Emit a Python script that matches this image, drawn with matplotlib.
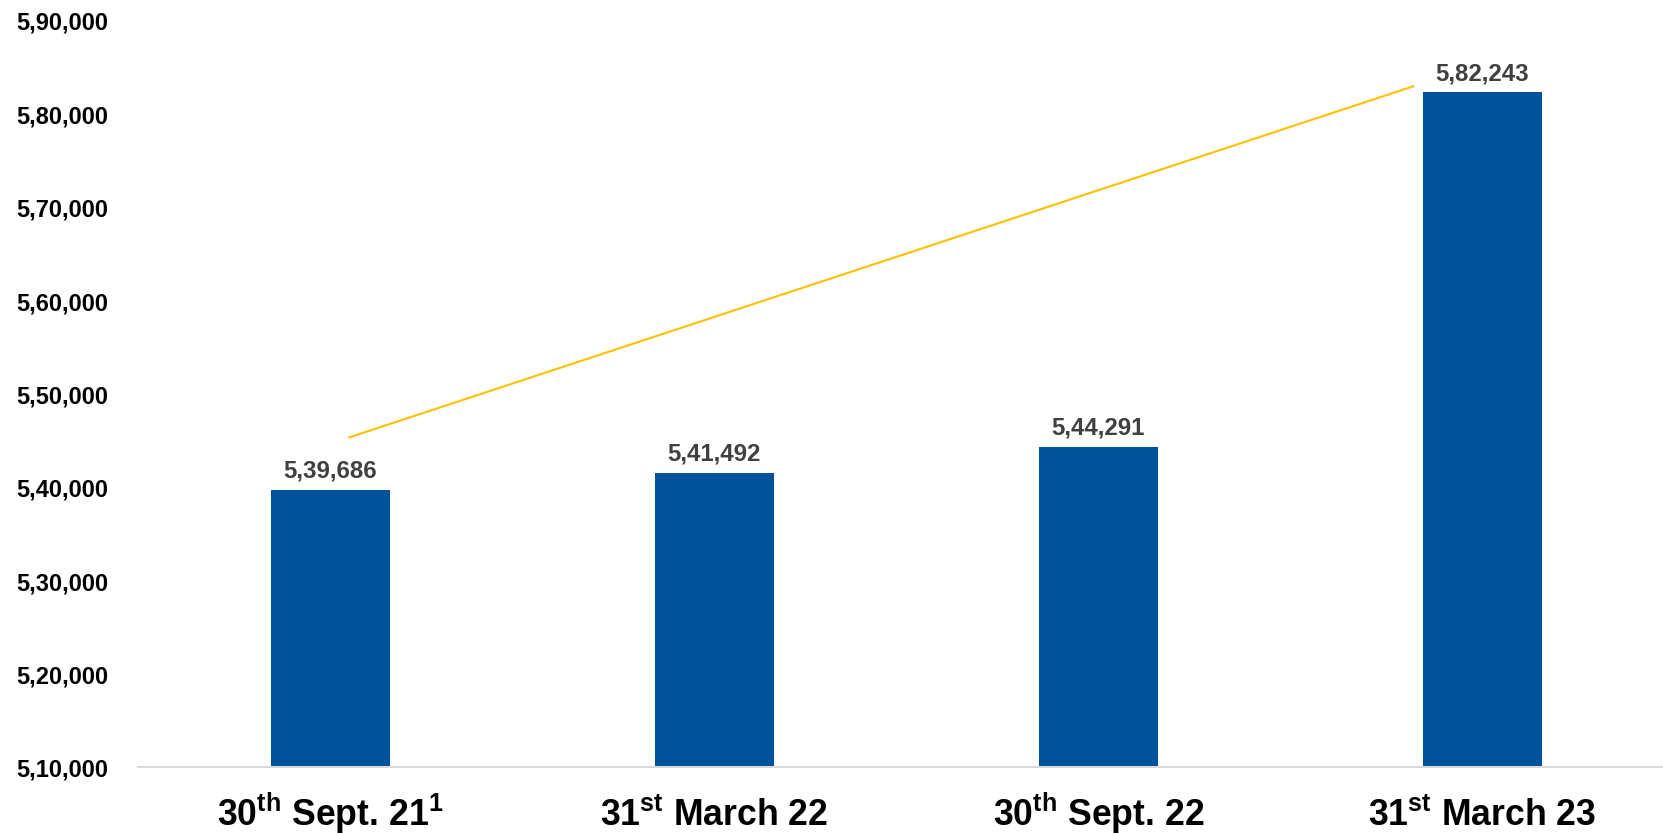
import matplotlib
matplotlib.use("Agg")
import matplotlib.pyplot as plt
from matplotlib.ticker import FixedLocator

plt.rcParams['font.family'] = ['Liberation Sans', 'DejaVu Sans']
plt.rcParams['mathtext.fontset'] = 'custom'
plt.rcParams['mathtext.rm'] = 'Liberation Sans:bold'
plt.rcParams['mathtext.bf'] = 'Liberation Sans:bold'
plt.rcParams['mathtext.it'] = 'Liberation Sans:bold'

categories = ["30$^{th}$ Sept. 21$^{1}$", "31$^{st}$ March 22", "30$^{th}$ Sept. 22", "31$^{st}$ March 23"]
values = [539686, 541492, 544291, 582243]
value_labels = ["5,39,686", "5,41,492", "5,44,291", "5,82,243"]
yticks = [510000, 520000, 530000, 540000, 550000, 560000, 570000, 580000, 590000]
ytick_labels = ["5,10,000", "5,20,000", "5,30,000", "5,40,000", "5,50,000",
                "5,60,000", "5,70,000", "5,80,000", "5,90,000"]
trend_x = [0.05, 2.82]
trend_y = [545300, 582900]

fig = plt.figure(figsize=(16.63, 8.37), dpi=100)
ax = fig.add_axes([138/1663, (837-768)/837, 1 - 138/1663, (768-21)/837])

x = list(range(len(values)))
ax.bar(x, values, width=0.31, color="#00529B", zorder=2)
ax.plot(trend_x, trend_y, color="#FFC000", lw=1.5, zorder=3)

for xi, v, lab in zip(x, values, value_labels):
    ax.text(xi, v + 900, lab, ha="center", va="bottom", fontsize=17.3,
            fontweight="bold", color="#404040")

ax.set_ylim(510000, 590000)
ax.set_xlim(-0.5, 3.47)
ax.yaxis.set_major_locator(FixedLocator(yticks))
ax.set_yticklabels(ytick_labels, fontsize=17, fontweight="bold", color="black")
ax.set_xticks(x)
ax.set_xticklabels(categories, fontsize=25.7, fontweight="bold", color="black",
                   va="baseline")
ax.tick_params(axis="y", length=0, pad=21.6)
ax.tick_params(axis="x", length=0, pad=42)

for s in ["top", "right", "left"]:
    ax.spines[s].set_visible(False)
ax.spines["bottom"].set_color("#D9D9D9")
ax.spines["bottom"].set_linewidth(1.5)

fig.savefig("out.png", dpi=100)
